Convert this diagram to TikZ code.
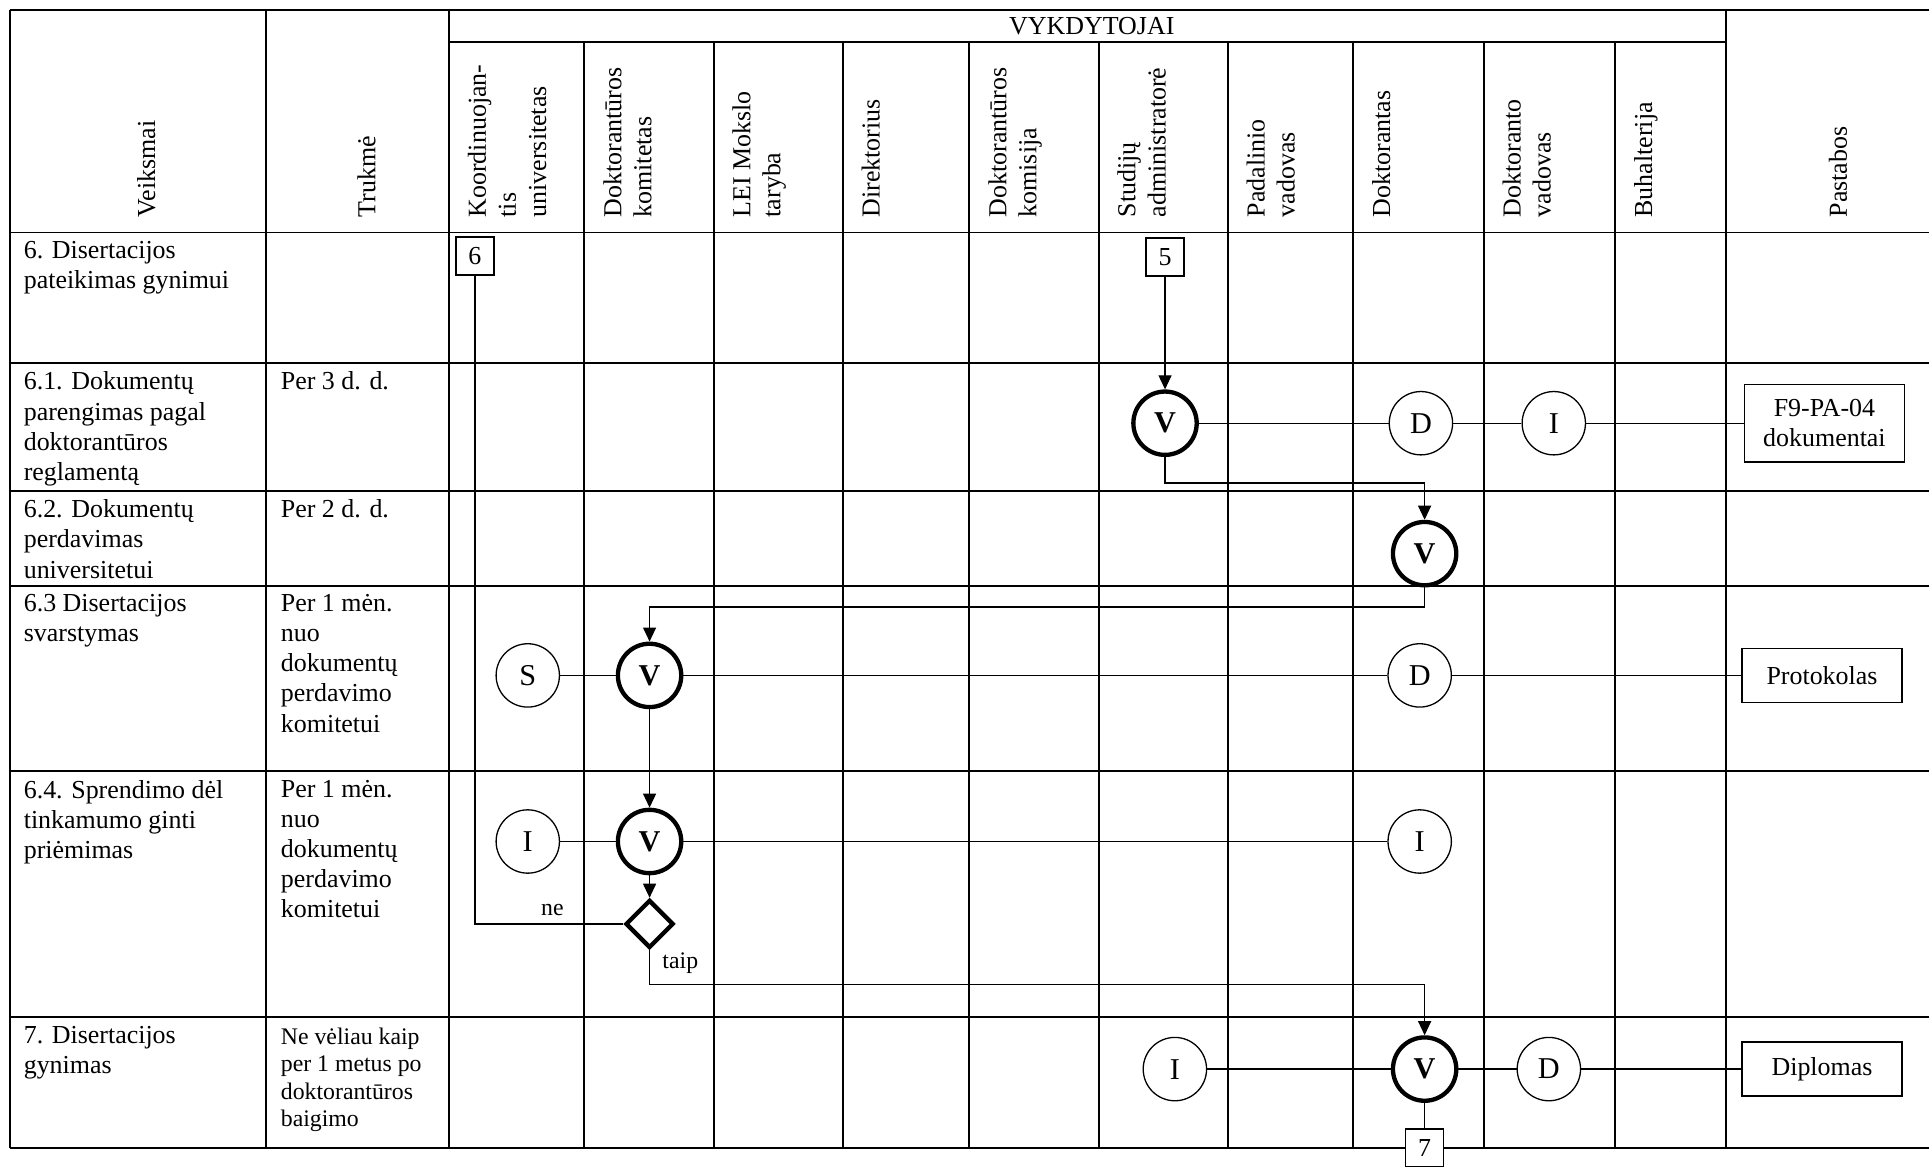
\documentclass[tikz,border=0pt]{standalone}
\usepackage{fontspec}
\setmainfont{Liberation Serif}
\usetikzlibrary{shapes.geometric,arrows.meta}

\begin{document}
\begin{tikzpicture}[
    x=0.02cm, y=-0.02cm,
    tbl/.style={line width=0.9pt},
    hdr/.style={
      rotate=90, anchor=north west, inner sep=0pt,
      align=left, font=\fontsize{12}{13.9}\selectfont
    },
    hdrc/.style={
      rotate=90, anchor=west, inner sep=0pt,
      font=\fontsize{12}{13.9}\selectfont
    },
    cell/.style={
      anchor=north west, inner sep=0pt,
      align=left, font=\fontsize{12}{13.9}\selectfont
    },
    role/.style={
      circle, draw, line width=0.6pt, fill=white,
      minimum size=1.03cm, inner sep=0pt,
      font=\fontsize{14}{16}\selectfont
    },
    act/.style={
      role, line width=2pt,
      font=\fontsize{14}{16}\selectfont\bfseries
    },
    dec/.style={
      diamond, draw, line width=2pt, fill=white,
      minimum size=0.78cm, inner sep=0pt
    },
    doc/.style={
      rectangle, draw, line width=0.7pt, fill=white,
      minimum width=2.6cm, minimum height=0.88cm,
      align=center, font=\fontsize{12}{13.9}\selectfont
    },
    numbox/.style={
      rectangle, draw, line width=0.7pt, fill=white,
      minimum size=0.62cm, inner sep=0pt,
      font=\fontsize{12}{13.9}\selectfont
    },
    lbl/.style={inner sep=0pt, font=\fontsize{11}{13}\selectfont},
    link/.style={line width=0.6pt},
    flow/.style={link, -{Triangle[length=6.5pt,width=6pt]}}
  ]
    \useasboundingbox (0,0) rectangle (1568,948);

    \draw[tbl] (8,8) -- (1568,8);
    \draw[tbl] (365,34) -- (1403,34);
    \draw[tbl] (8,189) -- (1568,189);
    \draw[tbl] (8,295) -- (1568,295);
    \draw[tbl] (8,399) -- (1568,399);
    \draw[tbl] (8,476) -- (1568,476);
    \draw[tbl] (8,627) -- (1568,627);
    \draw[tbl] (8,827) -- (1568,827);
    \draw[tbl] (8,933) -- (1568,933);

    \draw[tbl] (8,8) -- (8,933);
    \draw[tbl] (216,8) -- (216,933);
    \draw[tbl] (365,8) -- (365,933);
    \draw[tbl] (475,34) -- (475,933);
    \draw[tbl] (580,34) -- (580,933);
    \draw[tbl] (685,34) -- (685,933);
    \draw[tbl] (788,34) -- (788,933);
    \draw[tbl] (893,34) -- (893,933);
    \draw[tbl] (998,34) -- (998,933);
    \draw[tbl] (1100,34) -- (1100,933);
    \draw[tbl] (1206,34) -- (1206,933);
    \draw[tbl] (1313,34) -- (1313,933);
    \draw[tbl] (1403,8) -- (1403,933);

    \node[cell] (vykd) at (820,14) {VYKDYTOJAI};

    \node[hdrc] (h-veik)  at (119,177)  {Veiksmai};
    \node[hdrc] (h-truk)  at (298,177)  {Trukmė};
    \node[hdr]  (h-koord) at (380,177)  {Koordinuojan-\\tis\\universitetas};
    \node[hdr]  (h-dkom)  at (490,177)  {Doktorantūros\\komitetas};
    \node[hdr]  (h-lei)   at (595,177)  {LEI Mokslo\\taryba};
    \node[hdr]  (h-dir)   at (700,177)  {Direktorius};
    \node[hdr]  (h-dkms)  at (803,177)  {Doktorantūros\\komisija};
    \node[hdr]  (h-stud)  at (908,177)  {Studijų\\administratorė};
    \node[hdr]  (h-pad)   at (1013,177) {Padalinio\\vadovas};
    \node[hdr]  (h-dokt)  at (1115,177) {Doktorantas};
    \node[hdr]  (h-dvad)  at (1221,177) {Doktoranto\\vadovas};
    \node[hdr]  (h-buh)   at (1328,177) {Buhalterija};
    \node[hdrc] (h-past)  at (1494,177) {Pastabos};

    \node[cell] (veik-6)  at (19,196) {6. Disertacijos\\pateikimas gynimui};
    \node[cell] (veik-61) at (19,302) {6.1. Dokumentų\\parengimas pagal\\doktorantūros\\reglamentą};
    \node[cell] (veik-62) at (19,406) {6.2. Dokumentų\\perdavimas\\universitetui};
    \node[cell] (veik-63) at (19,483) {6.3 Disertacijos\\svarstymas};
    \node[cell] (veik-64) at (19,634) {6.4. Sprendimo dėl\\tinkamumo ginti\\priėmimas};
    \node[cell] (veik-7)  at (19,834) {7. Disertacijos\\gynimas};

    \node[cell] (truk-61) at (228,302) {Per 3 d. d.};
    \node[cell] (truk-62) at (228,406) {Per 2 d. d.};
    \node[cell] (truk-63) at (228,483) {Per 1 mėn.\\nuo\\dokumentų\\perdavimo\\komitetui};
    \node[cell] (truk-64) at (228,634) {Per 1 mėn.\\nuo\\dokumentų\\perdavimo\\komitetui};
    \node[cell, font=\fontsize{11}{12.7}\selectfont] (truk-7) at (228,835) {Ne vėliau kaip\\per 1 metus po\\doktorantūros\\baigimo};

    \node[numbox] (b5) at (947,209) {5};
    \node[numbox] (b6) at (386,208) {6};
    \node[numbox] (b7) at (1158,933) {7};

    \node[act]  (v61) at (947,344)  {V};
    \node[role] (d61) at (1155,344) {D};
    \node[role] (i61) at (1263,344) {I};
    \node[doc, minimum height=1.26cm] (doc61) at (1483,344) {F9-PA-04\\dokumentai};

    \node[act] (v62) at (1158,450) {V};

    \node[role] (s63) at (429,549)  {S};
    \node[act]  (v63) at (528,549)  {V};
    \node[role] (d63) at (1154,549) {D};
    \node[doc]  (doc63) at (1481,549) {Protokolas};

    \node[role] (i64a) at (429,684)  {I};
    \node[act]  (v64)  at (528,684)  {V};
    \node[role] (i64b) at (1154,684) {I};
    \node[dec]  (dec64) at (528,751) {};

    \node[role] (i7) at (955,869)  {I};
    \node[act]  (v7) at (1158,869) {V};
    \node[role] (d7) at (1259,869) {D};
    \node[doc]  (doc7) at (1481,869) {Diplomas};

    \node[lbl] (ne)   at (449,740) {ne};
    \node[lbl] (taip) at (553,783) {taip};

    \draw[flow] (b5.south) -- (v61.north);
    \draw[link] (v61.east) -- (d61.west);
    \draw[link] (d61.east) -- (i61.west);
    \draw[link] (i61.east) -- (doc61.west);
    \draw[flow] (v61.south) -- ++(0,21) -| (v62.north);
    \draw[flow] (v62.south) -- ++(0,16) -| (v63.north);

    \draw[link] (s63.east) -- (v63.west);
    \draw[link] (v63.east) -- (d63.west);
    \draw[link] (d63.east) -- (doc63.west);
    \draw[flow] (v63.south) -- (v64.north);

    \draw[link] (i64a.east) -- (v64.west);
    \draw[link] (v64.east) -- (i64b.west);
    \draw[flow] (v64.south) -- (dec64.north);
    \draw[link] (dec64.west) -| (b6.south);
    \draw[flow] (dec64.south) -- ++(0,28) -| (v7.north);

    \draw[link] (i7.east) -- (v7.west);
    \draw[link] (v7.east) -- (d7.west);
    \draw[link] (d7.east) -- (doc7.west);
    \draw[link] (v7.south) -- (b7.north);
  \end{tikzpicture}
\end{document}
